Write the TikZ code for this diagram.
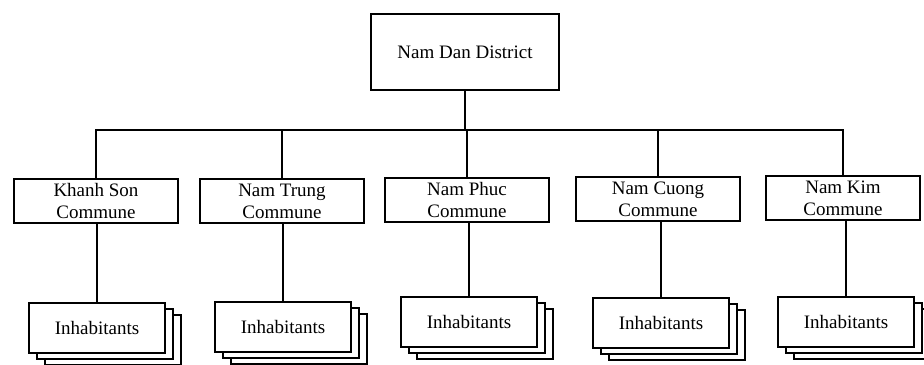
\documentclass[tikz,border=0pt]{standalone}
\usepackage{fontspec}
\setmainfont{Liberation Serif}
\usetikzlibrary{shadows}
\tikzset{
  unit/.style={draw,line width=0.8pt,fill=white,align=center,
    font=\fontsize{9.5}{11}\selectfont,inner sep=0pt},
  commune/.style={unit,minimum width=82pt,minimum height=22pt},
  people/.style={unit,minimum width=68pt,minimum height=25pt,
    double copy shadow={shadow xshift=4pt,shadow yshift=-3pt,
      draw,fill=white,line width=0.8pt}},
  link/.style={line width=0.8pt}
}
\begin{document}
\begin{tikzpicture}[x=0.5pt,y=-0.5pt]
  \useasboundingbox (0,0) rectangle (924,364);
  \node[unit,minimum width=94pt,minimum height=38pt] (district) at (465,52) {Nam Dan District};
  \coordinate (bus) at (0,130);
  % communes
  \node[commune] (khanhson) at (96,201) {Khanh Son\\Commune};
  \node[commune] (namtrung) at (282,201) {Nam Trung\\Commune};
  \node[commune] (namphuc) at (467,200) {Nam Phuc\\Commune};
  \node[commune] (namcuong) at (658,199) {Nam Cuong\\Commune};
  \node[commune,minimum width=77pt] (namkim) at (843,198) {Nam Kim\\Commune};
  % inhabitants
  \node[people] (khanhson-ppl) at (97,328) {Inhabitants};
  \node[people] (namtrung-ppl) at (283,327) {Inhabitants};
  \node[people] (namphuc-ppl) at (469,322) {Inhabitants};
  \node[people] (namcuong-ppl) at (661,323) {Inhabitants};
  \node[people] (namkim-ppl) at (846,322) {Inhabitants};
  % links
  \draw[link] (district.south) -- (district.south |- bus);
  \draw[link] (khanhson.north) -- (khanhson.north |- bus) -- (namkim.north |- bus) -- (namkim.north);
  \foreach \c in {namtrung,namphuc,namcuong}
    \draw[link] (\c.north) -- (\c.north |- bus);
  \foreach \c in {khanhson,namtrung,namphuc,namcuong,namkim}
    \draw[link] (\c-ppl.north) -- (\c-ppl.north |- \c.south);
\end{tikzpicture}
\end{document}
